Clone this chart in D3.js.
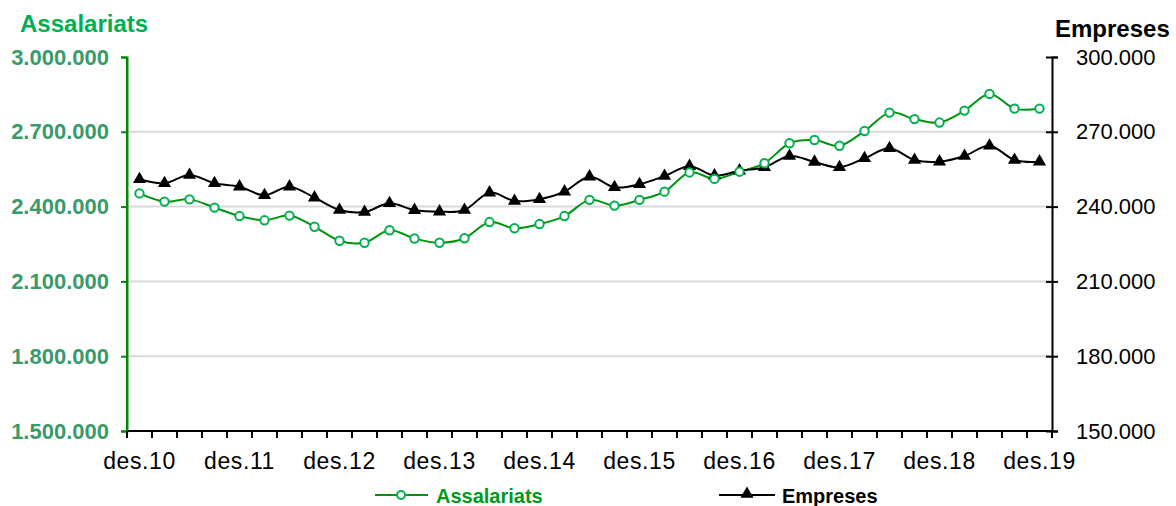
<!DOCTYPE html>
<html>
<head>
<meta charset="utf-8">
<script src="https://cdn.jsdelivr.net/npm/d3@7"></script>
<style>
  body { margin: 0; background: #fff; }
  text { font-family: "Liberation Sans", Arial, sans-serif; }
</style>
</head>
<body>
<div id="chart"></div>
<script>
// quarterly points, des.10 .. des.19 (37 quarters)
var tickLabels = ["des.10", "des.11", "des.12", "des.13", "des.14", "des.15", "des.16", "des.17", "des.18", "des.19"];

var assalariats = [
    2453000, 2420000, 2429000, 2396000, 2362000, 2345000, 2364000, 2319000, 2263000, 2255000,
    2305000, 2272000, 2255000, 2273000, 2338000, 2313000, 2330000, 2362000, 2427000, 2404000,
    2427000, 2460000, 2537000, 2511000, 2540000, 2574000, 2654000, 2667000, 2644000, 2703000,
    2777000, 2751000, 2737000, 2785000, 2852000, 2793000, 2793000
];

var empreses = [
    250950, 249350, 252670, 249350, 247990, 244530, 248000, 243600, 238640, 237830,
    241320, 238600, 237970, 238640, 245580, 242250, 242920, 246000, 252000, 247740,
    248940, 252270, 256200, 252400, 254400, 255760, 260300, 257900, 255760, 259370,
    263400, 258700, 258030, 260300, 264400, 258700, 258030
];

var leftTicks = [1500000, 1800000, 2100000, 2400000, 2700000, 3000000];
var rightTicks = [150000, 180000, 210000, 240000, 270000, 300000];

var W = 1176, H = 506;
var m = { top: 57, right: 124, bottom: 75, left: 127 };
var iw = W - m.left - m.right, ih = H - m.top - m.bottom;

var fmt = function (v) { return d3.format(",")(v).replace(/,/g, "."); };

var svg = d3.select("#chart").append("svg").attr("width", W).attr("height", H);
var g = svg.append("g").attr("transform", "translate(" + m.left + "," + m.top + ")");

var idx = d3.range(assalariats.length);
var x = d3.scaleBand().domain(idx).range([0, iw]);
var xc = function (i) { return x(i) + x.bandwidth() / 2; };
var yL = d3.scaleLinear().domain([1500000, 3000000]).range([ih, 0]);
var yR = d3.scaleLinear().domain([150000, 300000]).range([ih, 0]);

// grid
g.selectAll(".grid").data(leftTicks.slice(1, -1)).enter().append("line")
    .attr("x1", 0).attr("x2", iw)
    .attr("y1", yL).attr("y2", yL)
    .attr("stroke", "#d9d9d9").attr("stroke-width", 2);

// left axis
var axL = g.append("g").call(d3.axisLeft(yL).tickValues(leftTicks).tickFormat(fmt).tickSize(6).tickPadding(12));
axL.select(".domain").attr("stroke", "#008a00").attr("stroke-width", 2);
axL.selectAll(".tick line").attr("stroke", "#008a00").attr("stroke-width", 2);
axL.selectAll(".tick text").attr("fill", "#3a9a6a").attr("font-size", 22).attr("font-weight", "bold")
    .attr("font-family", "Liberation Sans, Arial, sans-serif");

// right axis, ticks cross the line
var axR = g.append("g").attr("transform", "translate(" + iw + ",0)")
    .call(d3.axisRight(yR).tickValues(rightTicks).tickFormat(fmt).tickSize(6).tickPadding(18));
axR.select(".domain").attr("stroke", "#000").attr("stroke-width", 2);
axR.selectAll(".tick line").attr("x1", -6).attr("stroke", "#000").attr("stroke-width", 2);
axR.selectAll(".tick text").attr("fill", "#000").attr("font-size", 22)
    .attr("font-family", "Liberation Sans, Arial, sans-serif");

// bottom axis: ticks on category boundaries
var xb = g.append("g").attr("transform", "translate(0," + ih + ")");
xb.append("line").attr("x1", 0).attr("x2", iw).attr("stroke", "#000").attr("stroke-width", 2);
xb.selectAll(".bt").data(d3.range(idx.length + 1)).enter().append("line")
    .attr("x1", function (i) { return i * x.step(); }).attr("x2", function (i) { return i * x.step(); })
    .attr("y1", 0).attr("y2", 7).attr("stroke", "#000").attr("stroke-width", 2);
xb.selectAll(".xl").data(tickLabels).enter().append("text")
    .attr("x", function (d, i) { return xc(i * 4); })
    .attr("y", 38)
    .attr("text-anchor", "middle").attr("font-size", 23).attr("letter-spacing", 0.6).attr("fill", "#000")
    .text(function (d) { return d; });

// left axis line on top of the x axis
g.append("line").attr("x1", 0).attr("x2", 0).attr("y1", 0).attr("y2", ih).attr("stroke", "#008a00").attr("stroke-width", 2);

var curve = d3.curveCardinal.tension(0);

var lineA = d3.line().x(function (d, i) { return xc(i); }).y(function (d) { return yL(d); }).curve(curve);
var lineE = d3.line().x(function (d, i) { return xc(i); }).y(function (d) { return yR(d); }).curve(curve);

g.append("path").datum(assalariats).attr("d", lineA).attr("fill", "none").attr("stroke", "#00930f").attr("stroke-width", 2);
g.append("path").datum(empreses).attr("d", lineE).attr("fill", "none").attr("stroke", "#000").attr("stroke-width", 2);

var tri = d3.symbol().type(d3.symbolTriangle).size(75);

g.selectAll(".me").data(empreses).enter().append("path")
    .attr("d", tri)
    .attr("transform", function (d, i) { return "translate(" + xc(i) + "," + yR(d) + ")"; })
    .attr("fill", "#000");

g.selectAll(".ma").data(assalariats).enter().append("circle")
    .attr("cx", function (d, i) { return xc(i); }).attr("cy", yL)
    .attr("r", 4.2).attr("fill", "#fff").attr("stroke", "#00b050").attr("stroke-width", 2);

// titles
svg.append("text").attr("x", 20).attr("y", 32).attr("font-size", 24).attr("font-weight", "bold")
    .attr("fill", "#00b050").text("Assalariats");
svg.append("text").attr("x", 1055).attr("y", 37).attr("font-size", 24).attr("font-weight", "bold")
    .attr("fill", "#000").text("Empreses");

// legend
var lg = svg.append("g").attr("transform", "translate(0,495)");
lg.append("line").attr("x1", 375).attr("x2", 428).attr("stroke", "#00930f").attr("stroke-width", 2);
lg.append("circle").attr("cx", 401).attr("r", 4).attr("fill", "#fff").attr("stroke", "#00b050").attr("stroke-width", 2);
lg.append("text").attr("x", 436).attr("y", 8).attr("font-size", 20).attr("font-weight", "bold")
    .attr("fill", "#009a1a").text("Assalariats");
lg.append("line").attr("x1", 719).attr("x2", 775).attr("stroke", "#000").attr("stroke-width", 2);
lg.append("path").attr("d", tri).attr("transform", "translate(747,-1)").attr("fill", "#000");
lg.append("text").attr("x", 782).attr("y", 8).attr("font-size", 20).attr("font-weight", "bold")
    .attr("fill", "#000").text("Empreses");
</script>
</body>
</html>
